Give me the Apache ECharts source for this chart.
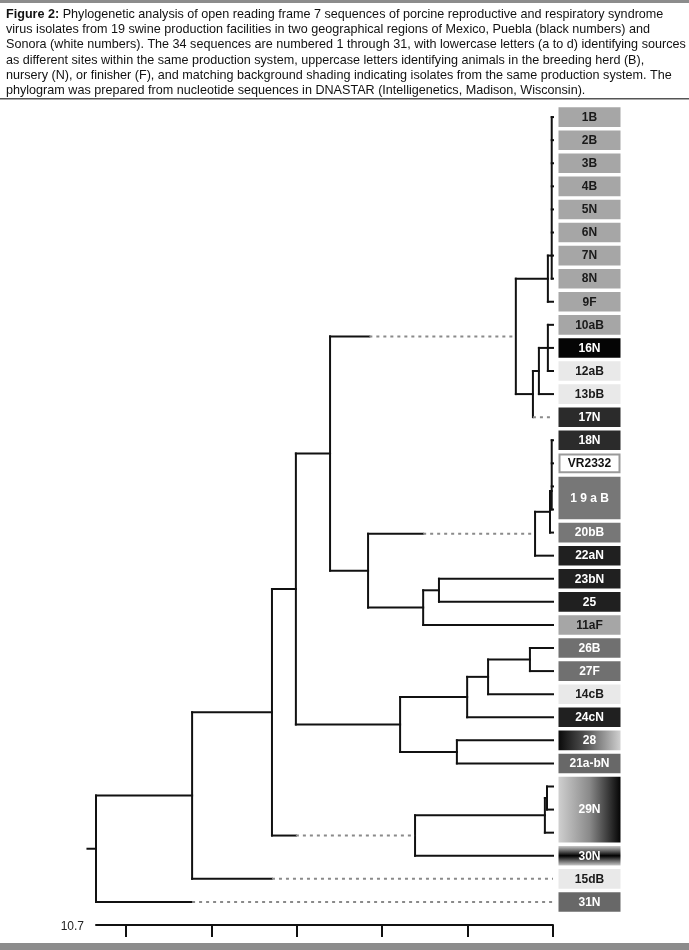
<!DOCTYPE html>
<html><head><meta charset="utf-8">
<script src="https://cdn.jsdelivr.net/npm/echarts@6/dist/echarts.min.js"></script>
<style>html,body{margin:0;padding:0;background:#fff}#c{width:689px;height:950px}</style>
</head><body><div id="c"></div>
<script>
// ---------- caption ----------
const captionLines = [
  '{b|Figure 2:} Phylogenetic analysis of open reading frame 7 sequences of porcine reproductive and respiratory syndrome',
  'virus isolates from 19 swine production facilities in two geographical regions of Mexico, Puebla (black numbers) and',
  'Sonora (white numbers). The 34 sequences are numbered 1 through 31, with lowercase letters (a to d) identifying sources',
  'as different sites within the same production system, uppercase letters identifying animals in the breeding herd (B),',
  'nursery (N), or finisher (F), and matching background shading indicating isolates from the same production system. The',
  'phylogram was prepared from nucleotide sequences in DNASTAR (Intelligenetics, Madison, Wisconsin).'
];

// ---------- scale (nucleotide substitutions) ----------
const scaleMax = 10.7;
const scaleTicks = [0, 2, 4, 6, 8, 10];
const scaleLabels = [10.7];

// ---------- leaf label boxes ----------
const boxLabels = ['1B','2B','3B','4B','5N','6N','7N','8N','9F','10aB','16N','12aB','13bB','17N','18N','VR2332','1 9 a B','20bB','22aN','23bN','25','11aF','26B','27F','14cB','24cN','28','21a-bN','29N','30N','15dB','31N'];
const boxFirstRow = [0,1,2,3,4,5,6,7,8,9,10,11,12,13,14,15,16,18,19,20,21,22,23,24,25,26,27,28,29,32,33,34];
const boxRowSpan  = [1,1,1,1,1,1,1,1,1,1,1,1,1,1,1,1,2,1,1,1,1,1,1,1,1,1,1,1,3,1,1,1];
const boxGroup    = ['g1','g1','g1','g1','g1','g1','g1','g1','g1','g1','g2','g3','g3','g4','g4','ref','g5','g5','g6','g6','g6','g1','g7','g7','g3','g6','g8','g9','g10','g11','g3','g9'];

// ---------- tree: tips (one per row) ----------
const tipParent   = ['U','U','U','U','U','U','U','U','T','X','X','X','W','V','P','P','P','P','O','N','R','R','Q','K','K','J','I','L','L','E','E','D','C','A','root'];
const tipDashFrom = [null,null,null,null,null,null,null,null,null,null,null,null,null,0.47,null,null,null,null,null,null,null,null,null,null,null,null,null,null,null,null,null,null,null,6.58,8.45];

// ---------- tree: internal nodes ----------
const nodeId       = ['root','A','B','F','G','S','T','U','V','W','X','M','N','O','P','Q','R','H','I','J','K','L','C','D','E'];
const nodeParent   = [null,'root','A','B','F','G','S','T','S','V','W','G','M','N','O','M','Q','F','H','I','J','H','B','C','D'];
const nodeDist     = [10.7,8.45,6.58,6.02,5.22,0.87,0.12,0.03,0.47,0.33,0.12,4.33,0.42,0.07,0.03,3.04,2.67,3.58,2.01,1.52,0.54,2.25,3.23,0.19,0.14];
const nodeDashFrom = [null,null,null,null,null,4.3,null,null,null,null,null,null,3.04,null,null,null,null,null,null,null,null,null,6.02,null,null];
const nodeJoinRow  = [null,null,null,null,null,null,null,6,null,null,null,null,null,null,16.2,null,null,null,null,null,null,null,null,null,null];
const rootStubDist = 10.9;

// ---------- styles ----------
const INK = '#111';
const DASH = '#8a8a8a';
const shadeStyles = {
  g1:  { fill: '#a6a6a6', text: '#1a1a1a' },
  g2:  { fill: '#050505', text: '#ffffff' },
  g3:  { fill: '#e9e9e9', text: '#1a1a1a' },
  g4:  { fill: '#2b2b2b', text: '#ffffff' },
  ref: { fill: '#ffffff', stroke: '#9a9a9a', text: '#111111' },
  g5:  { fill: '#777777', text: '#ffffff' },
  g6:  { fill: '#202020', text: '#ffffff' },
  g7:  { fill: '#707070', text: '#ffffff' },
  g8:  { grad: [0,0,1,0,[[0,'#0a0a0a'],[0.45,'#555555'],[1,'#d0d0d0']]], text: '#ffffff' },
  g9:  { fill: '#686868', text: '#ffffff' },
  g10: { grad: [0,0,1,0,[[0,'#cfcfcf'],[0.5,'#8a8a8a'],[1,'#050505']]], text: '#ffffff' },
  g11: { grad: [0,0,0,1,[[0,'#c8c8c8'],[0.5,'#000000'],[1,'#c8c8c8']]], text: '#ffffff' }
};

// ---------- build tree geometry (in data units) ----------
const children = {};
nodeId.forEach(id => children[id] = []);
tipParent.forEach((p, r) => children[p].push({ tip: true, row: r }));
nodeId.forEach((id, i) => { if (nodeParent[i]) children[nodeParent[i]].push({ tip: false, id }); });
const distOf = {}; nodeId.forEach((id, i) => distOf[id] = nodeDist[i]);
const joinOf = {};
function join(id) {
  if (joinOf[id] !== undefined) return joinOf[id];
  const i = nodeId.indexOf(id);
  const ys = children[id].map(c => c.tip ? c.row : join(c.id));
  const lo = Math.min(...ys), hi = Math.max(...ys);
  joinOf[id] = nodeJoinRow[i] != null ? nodeJoinRow[i] : (lo + hi) / 2;
  return joinOf[id];
}
const segs = [];
function branch(fromDist, toDist, y, dashFrom) {
  if (dashFrom == null) { segs.push([fromDist, y, toDist, y, 0]); return; }
  if (dashFrom < fromDist) segs.push([fromDist, y, dashFrom, y, 0]);
  segs.push([dashFrom, y, toDist, y, 1]);
}
nodeId.forEach((id, i) => {
  const y = join(id);
  const ys = children[id].map(c => c.tip ? c.row : join(c.id));
  segs.push([nodeDist[i], Math.min(...ys), nodeDist[i], Math.max(...ys), 0]);
  if (nodeParent[i]) branch(distOf[nodeParent[i]], nodeDist[i], y, nodeDashFrom[i]);
});
tipParent.forEach((p, r) => branch(distOf[p], 0, r, tipDashFrom[r]));
segs.push([rootStubDist, join('root'), distOf['root'], join('root'), 0]);

const boxData = boxLabels.map((l, i) => [boxFirstRow[i], boxRowSpan[i], i]);

const FONT = '"Liberation Sans", Arial, sans-serif';
const chart = echarts.init(document.getElementById('c'), null, { renderer: 'canvas' });
chart.setOption({
  animation: false,
  backgroundColor: '#ffffff',
  title: {
    left: 1, top: 2,
    text: captionLines.join('\n'),
    textStyle: {
      fontFamily: FONT, fontSize: 12.6, fontWeight: 'normal', color: '#111', lineHeight: 15.2,
      rich: { b: { fontFamily: FONT, fontSize: 12.6, fontWeight: 'bold', color: '#111', lineHeight: 15.2 } }
    }
  },
  graphic: [
    { type: 'rect', left: 0, top: 0, shape: { width: 689, height: 3 }, style: { fill: '#8c8c8c' } },
    { type: 'rect', left: 0, top: 98, shape: { width: 689, height: 1.5 }, style: { fill: '#555' } },
    { type: 'rect', left: 0, top: 943, shape: { width: 689, height: 7 }, style: { fill: '#8c8c8c' } }
  ],
  grid: { left: 96, right: 136, top: 94, bottom: 25, containLabel: false },
  xAxis: {
    type: 'value', inverse: true, min: 0, max: scaleMax, interval: 2,
    splitLine: { show: false },
    axisLine: { show: true, onZero: false, lineStyle: { color: INK, width: 2 } },
    axisTick: { show: true, customValues: scaleTicks, length: 12, lineStyle: { color: INK, width: 2 } },
    axisLabel: {
      customValues: scaleLabels, formatter: v => String(v),
      fontFamily: FONT, fontSize: 12, color: '#222',
      align: 'right', verticalAlign: 'middle', margin: 2, padding: [0, 12, 0, 0]
    }
  },
  yAxis: { type: 'value', inverse: true, min: -1, max: 35, show: false },
  series: [
    {
      type: 'custom', clip: false, silent: true,
      data: segs,
      encode: { x: [0, 2], y: [1, 3] },
      renderItem: function (params, api) {
        const p1 = api.coord([api.value(0), api.value(1)]);
        const p2 = api.coord([api.value(2), api.value(3)]);
        const dashed = api.value(4) === 1;
        return {
          type: 'line',
          shape: { x1: p1[0], y1: p1[1], x2: p2[0], y2: p2[1] },
          style: { stroke: dashed ? DASH : INK, lineWidth: 2, lineDash: dashed ? [3, 4] : null, lineCap: dashed ? 'butt' : 'square' }
        };
      }
    },
    {
      type: 'custom', clip: false, silent: true,
      data: boxData,
      encode: { y: 0 },
      renderItem: function (params, api) {
        const r0 = api.value(0), span = api.value(1), idx = api.value(2);
        const top = api.coord([0, r0 - 0.5]);
        const bot = api.coord([0, r0 + span - 0.5]);
        const x = top[0] + 5.5, y = top[1] + 1.75, w = 62, h = bot[1] - top[1] - 3.5;
        const st = shadeStyles[boxGroup[idx]];
        let fill = st.fill;
        if (st.grad) {
          const g = st.grad;
          fill = new echarts.graphic.LinearGradient(g[0], g[1], g[2], g[3], g[4].map(s => ({ offset: s[0], color: s[1] })));
        }
        const rectStyle = { fill: fill };
        if (st.stroke) { rectStyle.stroke = st.stroke; rectStyle.lineWidth = 2; }
        return {
          type: 'group',
          children: [
            { type: 'rect', shape: st.stroke ? { x: x + 1, y: y + 1, width: w - 2, height: h - 2 } : { x, y, width: w, height: h }, style: rectStyle },
            { type: 'text', x: x + w / 2, y: y + h / 2 + 0.5,
              style: { text: boxLabels[idx], fill: st.text, font: 'bold 12px ' + FONT, align: 'center', verticalAlign: 'middle' } }
          ]
        };
      }
    }
  ]
});
</script></body></html>
